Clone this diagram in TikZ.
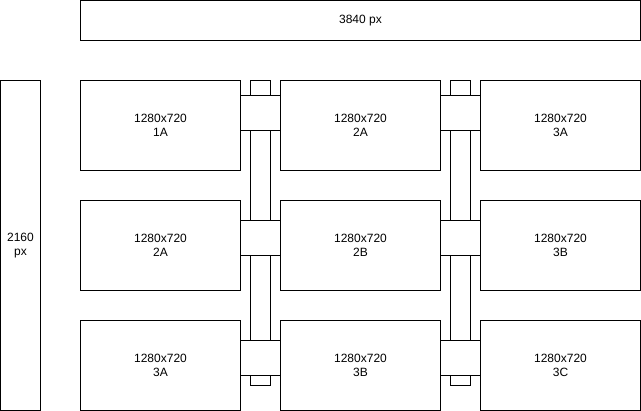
\documentclass[tikz,border=0pt]{standalone}
\usepackage{fontspec}
\setmainfont{Liberation Sans}
\begin{document}
\begin{tikzpicture}[x=1pt,y=-1pt,
  every node/.style={inner sep=0pt, outer sep=0pt, font=\fontsize{12}{14}\selectfont, align=center},
  box/.style={draw=black, line width=1pt, fill=white, rectangle},
  screen/.style={box, minimum width=160pt, minimum height=90pt},
  bar/.style={box, minimum width=20pt, minimum height=305pt},
  joint/.style={box, minimum width=40pt, minimum height=35pt}]
\useasboundingbox (0,0) rectangle (641,411);
% dimension labels
\node[box, minimum width=560pt, minimum height=40pt] (width) at (360.5,20.5) {3840 px};
\node[box, minimum width=40pt, minimum height=330pt] (height) at (20.5,245.5) {2160\\px};
% screen grid
\node[screen] (s1A) at (160.5,125.5) {1280x720\\1A};
\node[screen] (s2A) at (360.5,125.5) {1280x720\\2A};
\node[screen] (s3A) at (560.5,125.5) {1280x720\\3A};
\node[screen] (r2A) at (160.5,245.5) {1280x720\\2A};
\node[screen] (r2B) at (360.5,245.5) {1280x720\\2B};
\node[screen] (r3B) at (560.5,245.5) {1280x720\\3B};
\node[screen] (t3A) at (160.5,365.5) {1280x720\\3A};
\node[screen] (t3B) at (360.5,365.5) {1280x720\\3B};
\node[screen] (t3C) at (560.5,365.5) {1280x720\\3C};
% vertical mounting bars
\node[bar] (barL) at (260.5,233) {};
\node[bar] (barR) at (460.5,233) {};
% joints between neighbouring screens
\foreach \cx/\c in {260.5/L,460.5/R}{
  \node[joint] (j1\c) at (\cx,113) {};
  \node[joint] (j2\c) at (\cx,238) {};
  \node[joint] (j3\c) at (\cx,358) {};
}
\end{tikzpicture}
\end{document}
